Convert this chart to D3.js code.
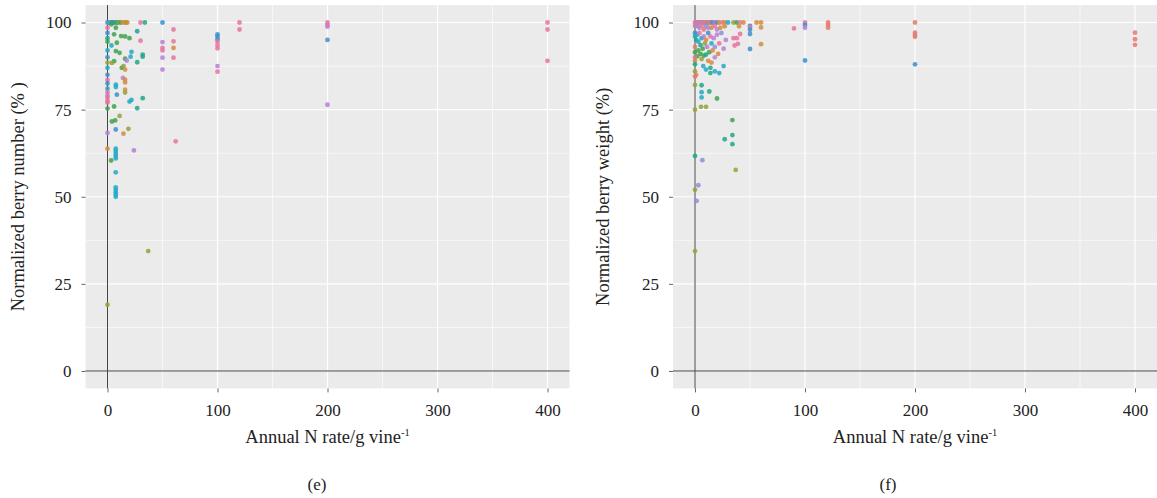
<!DOCTYPE html>
<html>
<head>
<meta charset="utf-8">
<script src="https://cdn.jsdelivr.net/npm/d3@7"></script>
<style>
  body { margin: 0; background: #fff; }
  svg { display: block; }
</style>
</head>
<body>
<svg id="chart" width="1157" height="498"></svg>
<script>
// studies (colour groups)
const studies = ["S1", "S2", "S3", "S4", "S5", "S6", "S7", "S8", "S9", "S10"];
const studyColors = ["#E47A70", "#D68B3E", "#95A23A", "#3FA34D", "#1FA88A", "#22A9C5", "#3C8FD0", "#8B8FE0", "#B97FD6", "#E8739F"];

const xTicks = [0, 100, 200, 300, 400];
const yTicks = [0, 25, 50, 75, 100];

// [annual N rate, normalized value, study index]
const berryNumber = [
  [0,100,6],[1,100,5],[2,100,7],[3,100,6],[4,100,5],[5,100,3],[6,100,6],[8,100,3],[9,100,4],[10,100,2],
  [12,100,3],[14,100,1],[16,100,1],[17,100,2],[18,100,1],[30,100,9],[34,100,4],[50,100,6],[120,100,9],[200,100,9],[400,100,9],
  [0,98.5,9],[0,97,6],[0,95.5,4],[0,94.5,3],[0,92,5],[0,90,6],[0,88.5,2],[0,87,5],[0,85,6],[0,83.5,9],
  [0,82.5,6],[0,81,5],[0,80,9],[0,79,8],[0,78.5,9],[0,77.5,9],[0,77,9],[0,75.3,3],[0,68.3,8],[0,63.8,1],[0,19,2],
  [3.5,99.5,3],[7.6,98.5,3],[6,96.6,3],[12.4,96.1,3],[16,96,3],[20,95.5,3],[8.5,94.2,3],[3.6,93.4,5],[7.6,91.8,3],
  [11,91.3,3],[6,88.9,3],[4,88.4,2],[13,87,3],[14.6,87.5,2],[16,86.5,1],[14,84.1,8],[16,83.6,1],[16,82.8,1],
  [16,80.7,1],[16,79.9,2],[7.6,82.2,5],[7.6,81.5,5],[8.5,79.3,6],[6,75.9,3],
  [27,97.5,4],[30,94.8,9],[32,90.8,4],[32,90.2,4],[21.8,91.6,5],[21,90.2,5],[27,88.6,4],[16,89.6,3],[17.5,89.1,8],
  [21.8,77.8,5],[20,77.3,5],[32,78.3,4],[27,75.4,4],
  [4,71.6,3],[7,71.9,3],[11,73.2,2],[7.5,69.3,6],[14.5,68.1,1],[19,69.5,2],[7.5,63.8,5],[7.5,63.1,5],[7.5,62.4,5],
  [7.5,61.7,5],[7.5,61,5],[3.3,60.4,3],[24,63.3,8],[62,65.9,9],[7.5,57,5],[7.5,52.7,5],[7.5,52,5],[7.5,51.3,5],
  [7.5,50.6,5],[7.5,50,5],[37,34.4,2],
  [60,98,9],[60,94.6,9],[60,92.7,1],[60,89.9,9],[50,94.4,8],[50,92.7,9],[50,92,9],[50,89.9,8],[50,86.5,8],
  [100,96.6,6],[100,96,6],[100,95.2,6],[100,94.5,9],[100,93.5,9],[100,92.6,9],[100,87.5,8],[100,85.9,9],
  [120,98,9],[200,99.3,9],[200,98.8,8],[200,95,6],[200,76.4,8],[400,98,9],[400,89,9]
];

const berryWeight = [
  [0,100,9],[1,100,8],[2,100,0],[3,100,9],[4,100,8],[5,100,1],[6,100,9],[7,100,7],[8,100,0],[9,100,8],
  [10,100,1],[11,100,9],[12,100,2],[13,100,8],[14,100,1],[15,100,9],[16,100,6],[18,100,8],[20,100,6],[22,100,1],
  [25,100,9],[27,100,1],[30,100,5],[35,100,2],[38,100,3],[41,100,9],[44,100,1],[56,100,1],[60,100,1],[100,100,9],
  [121,100,0],[200,100,0],
  [0,99,9],[2,99,7],[4,98.5,8],[6,99,9],[8,98,0],[10,99,7],[12,98.5,8],[15,98.5,1],[18,99,9],[20,98,8],
  [23,98.5,1],[27,98.9,1],[40,98.9,1],[50,99,6],[50,98.6,9],[50,97.9,6],[60,98.6,1],[90,98.3,9],[100,99.3,6],
  [100,98.5,8],[121,99.3,0],[121,98.5,0],
  [0,97,6],[0,96,5],[1,95,4],[2,96.5,5],[3,94.5,5],[4,97,9],[5,93.5,4],[6,95.5,5],[7,92.5,3],[8,96,8],
  [9,94,2],[10,95,1],[11,93,8],[12,97,6],[13,91.5,3],[14,96,9],[15,94,5],[16,92,1],[17,95.5,8],[18,93,7],
  [20,96.5,8],[21,91,1],[22,94,9],[24,97,7],[26,92.5,8],[28,95,8],[5,91,3],[3,92,3],[8,90.5,3],[10,90.8,4],
  [2,90.3,3],[6,89.5,2],[12,89,1],[15,88.5,1],[18,90,8],[35,95.5,9],[38,95.5,9],[41,96.7,9],[36,93.4,9],[39,93.9,9],
  [50,96.7,6],[50,92.4,6],[60,93.8,1],
  [0,93,0],[0,91.5,3],[0,90,9],[0,89,1],
  [0,88,4],[0,86,2],[0,84.5,0],[0,82.1,2],[1,85,0],[7.5,87.5,5],[10,86.5,5],[14,87,4],[18,86,5],[22,85.5,5],
  [26,87.5,5],[14,85.5,4],[6,82,4],[6,80,5],[6,78.5,5],[13,80.2,4],[20,78.2,3],[0,75,2],[5.5,75.8,2],[10,75.8,2],
  [34,72,3],[34,67.7,4],[34,65.1,4],[27,66.5,4],[37,57.7,2],[0,61.7,4],[6.7,60.5,7],[3,53.3,7],[0,52,2],[1.5,48.8,7],
  [0,34.4,2],[100,89.1,6],[200,97.1,0],[200,96.4,0],[200,95.9,0],[200,88,6],[400,97.1,0],[400,95.2,0],[400,93.6,0]
];

const svg = d3.select("#chart");
const color = d3.scaleOrdinal().domain(d3.range(studies.length)).range(studyColors);
const FONT = "'Liberation Serif', 'DejaVu Serif', serif";

function drawPanel(opts) {
  const x = d3.scaleLinear().domain([-20, 420]).range([opts.left, opts.right]);
  const y = d3.scaleLinear().domain([-5, 105]).range([388.4, 5.1]);
  const g = svg.append("g");

  g.append("rect")
    .attr("x", opts.left).attr("y", y(105))
    .attr("width", opts.right - opts.left).attr("height", y(-5) - y(105))
    .attr("fill", "#EBEBEB");

  // minor grid
  const xMinor = [50, 150, 250, 350];
  const yMinor = [12.5, 37.5, 62.5, 87.5];
  g.selectAll(".xminor").data(xMinor).enter().append("line")
    .attr("x1", d => x(d)).attr("x2", d => x(d)).attr("y1", y(105)).attr("y2", y(-5))
    .attr("stroke", "#fff").attr("stroke-width", 0.6);
  g.selectAll(".yminor").data(yMinor).enter().append("line")
    .attr("x1", opts.left).attr("x2", opts.right).attr("y1", d => y(d)).attr("y2", d => y(d))
    .attr("stroke", "#fff").attr("stroke-width", 0.6);
  // major grid
  g.selectAll(".xmajor").data(xTicks).enter().append("line")
    .attr("x1", d => x(d)).attr("x2", d => x(d)).attr("y1", y(105)).attr("y2", y(-5))
    .attr("stroke", "#fff").attr("stroke-width", 1.2);
  g.selectAll(".ymajor").data(yTicks).enter().append("line")
    .attr("x1", opts.left).attr("x2", opts.right).attr("y1", d => y(d)).attr("y2", d => y(d))
    .attr("stroke", "#fff").attr("stroke-width", 1.2);

  // zero lines
  g.append("line").attr("x1", x(0)).attr("x2", x(0)).attr("y1", y(105)).attr("y2", y(-5))
    .attr("stroke", "#444").attr("stroke-width", 1);
  g.append("line").attr("x1", opts.left).attr("x2", opts.right).attr("y1", y(0)).attr("y2", y(0))
    .attr("stroke", "#444").attr("stroke-width", 1);

  // axes
  const xAxis = g.append("g").attr("transform", `translate(0,${y(-5)})`)
    .call(d3.axisBottom(x).tickValues(xTicks).tickSize(4).tickPadding(12));
  const yAxis = g.append("g").attr("transform", `translate(${opts.left},0)`)
    .call(d3.axisLeft(y).tickValues(yTicks).tickSize(4).tickPadding(10));
  [xAxis, yAxis].forEach(a => {
    a.select(".domain").remove();
    a.selectAll(".tick line").attr("stroke", "#666");
    a.selectAll("text").attr("font-family", FONT).attr("font-size", 17).attr("fill", "#222");
  });

  g.append("g").selectAll("circle").data(opts.data).enter().append("circle")
    .attr("cx", d => x(d[0])).attr("cy", d => y(d[1])).attr("r", 2.4)
    .attr("fill", d => color(d[2])).attr("fill-opacity", 0.85);

  // axis titles
  const xt = g.append("text")
    .attr("x", (opts.left + opts.right) / 2).attr("y", 443)
    .attr("text-anchor", "middle").attr("font-family", FONT).attr("font-size", 18.5).attr("fill", "#222");
  xt.append("tspan").text("Annual N rate/g vine");
  xt.append("tspan").attr("font-size", 10.5).attr("dy", -7).text("-1");

  g.append("text")
    .attr("transform", `translate(${opts.titleX},${y(50)}) rotate(-90)`)
    .attr("text-anchor", "middle").attr("font-family", FONT).attr("font-size", 18.5).attr("fill", "#222")
    .text(opts.yTitle);

  g.append("text")
    .attr("x", opts.tagX).attr("y", 490)
    .attr("text-anchor", "middle").attr("font-family", FONT).attr("font-size", 17).attr("fill", "#222")
    .text(opts.tag);
}

drawPanel({ left: 85.5, right: 569.5, data: berryNumber, yTitle: "Normalized berry number (% )", titleX: 24, tag: "(e)", tagX: 317 });
drawPanel({ left: 673, right: 1157, data: berryWeight, yTitle: "Normalized berry weight (%)", titleX: 609, tag: "(f)", tagX: 888 });
</script>
</body>
</html>
